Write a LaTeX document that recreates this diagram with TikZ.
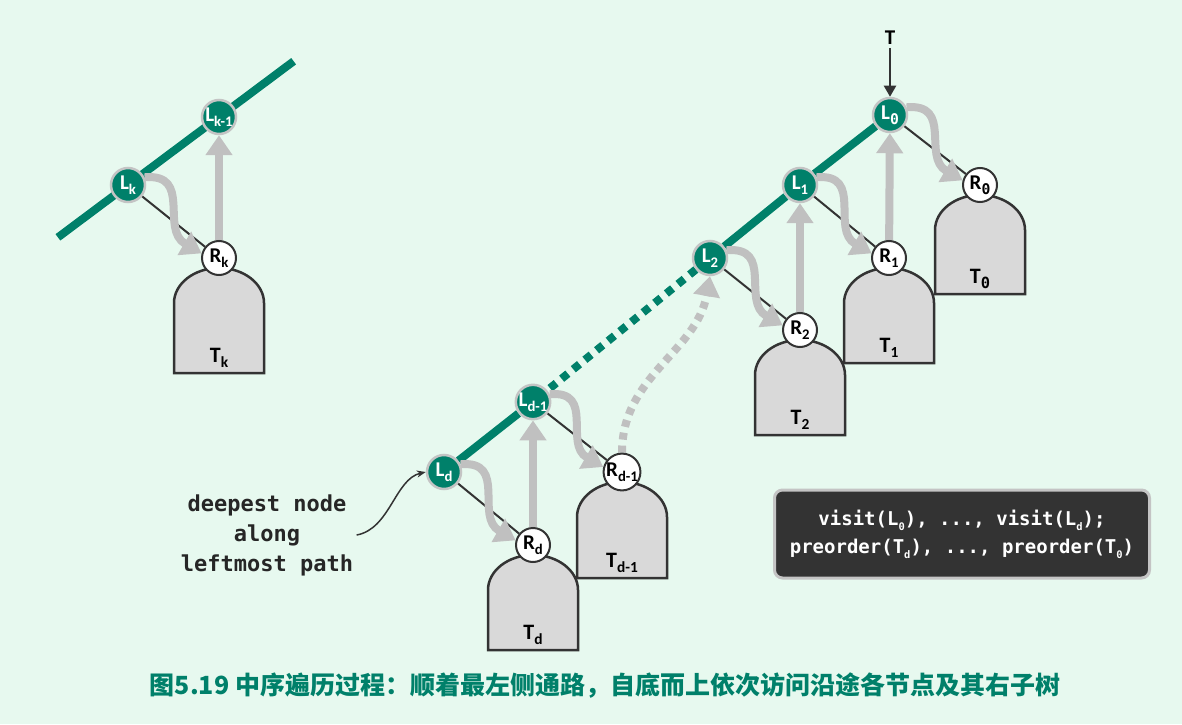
\documentclass[tikz,border=0pt]{standalone}
\usepackage{fontspec}
\usepackage{graphicx}
\setmainfont{Carlito}
\newfontfamily\codefont{DejaVu Sans Mono}
\newfontfamily\cjkfont{Noto Sans CJK SC}
\usetikzlibrary{arrows.meta, calc}

\definecolor{bgmint}{HTML}{E7F9EF}
\definecolor{pathgreen}{HTML}{00806A}
\definecolor{stepgrey}{HTML}{C0C0C0}
\definecolor{treegrey}{HTML}{D9D9D9}
\definecolor{inkdark}{HTML}{333333}
\definecolor{ringgrey}{HTML}{C4C4C4}

\pgfdeclarelayer{back}
\pgfdeclarelayer{links}
\pgfsetlayers{back,links,main}

\newcommand\lowsub[2][0.7]{\raisebox{-0.25em}{\scalebox{#1}{#2}}}
% x of root, y of root, y of bottom
\newcommand\subtree[3]{%
  \draw[treebox] (#1-45,#3) -- (#1-45,#2-45) .. controls (#1-45,#2-25.7) and (#1-24.8,#2-10) .. (#1,#2-10)
    .. controls (#1+24.8,#2-10) and (#1+45,#2-25.7) .. (#1+45,#2-45) -- (#1+45,#3) -- cycle;}

\begin{document}
\begin{tikzpicture}[x=1pt, y=1pt,
    lnode/.style={circle, fill=pathgreen, draw=ringgrey, line width=2.5pt, minimum size=34pt, inner sep=0pt, text=white, font=\bfseries\fontsize{21}{24}\selectfont},
    rnode/.style={circle, fill=white, draw=inkdark, line width=2pt, minimum size=34pt, inner sep=0pt, font=\bfseries\fontsize{21}{24}\selectfont},
    treebox/.style={fill=treegrey, draw=inkdark, line width=2.5pt},
    tlabel/.style={anchor=base, font=\bfseries\fontsize{22}{24}\selectfont},
    spine/.style={pathgreen, line width=8pt},
    childlink/.style={inkdark, line width=2pt},
    turn/.style={stepgrey, line width=8pt, -{Triangle[width=26pt,length=20pt]}}]
    \useasboundingbox (0,0) rectangle (1182,724);

    % Background and subtrees
    \begin{pgfonlayer}{back}
        \fill[bgmint] (0,0) rectangle (1182,724);
        \subtree{219}{466}{351}
        \subtree{980}{539}{430}
        \subtree{889}{466}{361}
        \subtree{800}{394}{289}
        \subtree{622}{252}{146}
        \subtree{533}{179}{74}
    \end{pgfonlayer}

    % Upper part of the path
    \node[lnode] (lk1) at (219,607) {L\lowsub{k-1}};
    \node[lnode] (lk) at (128,539) {L\lowsub{k}};
    \node[rnode] (rk) at (219,466) {R\lowsub{k}};
    \node[tlabel] (tk) at (219,362) {T\lowsub{k}};

    % Start of the path
    \node[font=\bfseries\fontsize{21}{24}\selectfont] (top) at (890,686) {T};
    \node[lnode] (l0) at (890,609) {L\lowsub{\codefont 0}};
    \node[lnode] (l1) at (800,539) {L\lowsub{1}};
    \node[lnode] (l2) at (710,466) {L\lowsub{2}};
    \node[rnode] (r0) at (980,539) {R\lowsub{\codefont 0}};
    \node[rnode] (r1) at (889,466) {R\lowsub{1}};
    \node[rnode] (r2) at (800,394) {R\lowsub{2}};
    \node[tlabel] (t0) at (980,441) {T\lowsub{\codefont 0}};
    \node[tlabel] (t1) at (889,372) {T\lowsub{1}};
    \node[tlabel] (t2) at (800,300) {T\lowsub{2}};

    % Deepest part of the path
    \node[lnode] (ld1) at (533,322) {L\lowsub{d-1}};
    \node[lnode] (ld) at (444,252) {L\lowsub{d}};
    \node[rnode] (rd1) at (622,252) {R\lowsub{d-1}};
    \node[rnode] (rd) at (533,179) {R\lowsub{d}};
    \node[tlabel] (td1) at (622,157) {T\lowsub{d-1}};
    \node[tlabel] (td) at (533,85) {T\lowsub{d}};

    \draw[inkdark, line width=2.2pt, -{Triangle[width=12pt,length=11pt]}] (top) -- (l0);

    % Links, path and steps
    \begin{pgfonlayer}{links}
        \draw[childlink] (lk) -- (rk);
        \draw[childlink] (l0) -- (r0);
        \draw[childlink] (l1) -- (r1);
        \draw[childlink] (l2) -- (r2);
        \draw[childlink] (ld1) -- (rd1);
        \draw[childlink] (ld) -- (rd);

        \draw[spine] ($(lk)!-0.77!(lk1)$) -- ($(lk1)!-0.82!(lk)$);
        \draw[spine] (l0) -- (l1) -- (l2);
        \draw[spine, dash pattern=on 8pt off 7pt] (l2) -- (ld1);
        \draw[spine] (ld1) -- (ld);

        \draw[turn] (lk.25) to[out=5, in=150, looseness=1.3] (rk.165);
        \draw[turn] (l0.25) to[out=5, in=150, looseness=1.3] (r0.165);
        \draw[turn] (l1.25) to[out=5, in=150, looseness=1.3] (r1.165);
        \draw[turn] (l2.25) to[out=5, in=150, looseness=1.3] (r2.165);
        \draw[turn] (ld1.25) to[out=5, in=150, looseness=1.3] (rd1.165);
        \draw[turn] (ld.25) to[out=5, in=150, looseness=1.3] (rd.165);

        \draw[turn] (rk) -- (lk1);
        \draw[turn] (r1) -- (l0);
        \draw[turn] (r2) -- (l1);
        \draw[turn] (rd) -- (ld1);
        \draw[turn, dash pattern=on 7pt off 6pt] (rd1.north) to[out=90, in=-100] (l2.south);
    \end{pgfonlayer}

    % Note and summary
    \node[align=center, text=black!85, font=\codefont\bfseries\fontsize{22}{30}\selectfont] (note) at (267,189) {deepest node\\along\\leftmost path};
    \draw[inkdark, line width=1.5pt, -{Stealth[length=9pt,width=7pt]}] (note.east) .. controls (390,195) and (395,245) .. (ld.west);

    \node[fill=inkdark, draw=ringgrey, line width=3pt, rounded corners=8pt, minimum width=375pt, minimum height=88pt,
        text=white, align=center, font=\codefont\bfseries\fontsize{19}{28}\selectfont] (summary) at (962,190)
        {visit(L\lowsub[0.55]{0}), ..., visit(L\lowsub[0.55]{d});\\preorder(T\lowsub[0.55]{d}), ..., preorder(T\lowsub[0.55]{0})};

    \node[text=pathgreen, font=\cjkfont\bfseries\fontsize{25}{30}\selectfont] (caption) at (605,38)
        {图5.19\hspace{6pt}中序遍历过程：顺着最左侧通路，自底而上依次访问沿途各节点及其右子树};
\end{tikzpicture}
\end{document}
